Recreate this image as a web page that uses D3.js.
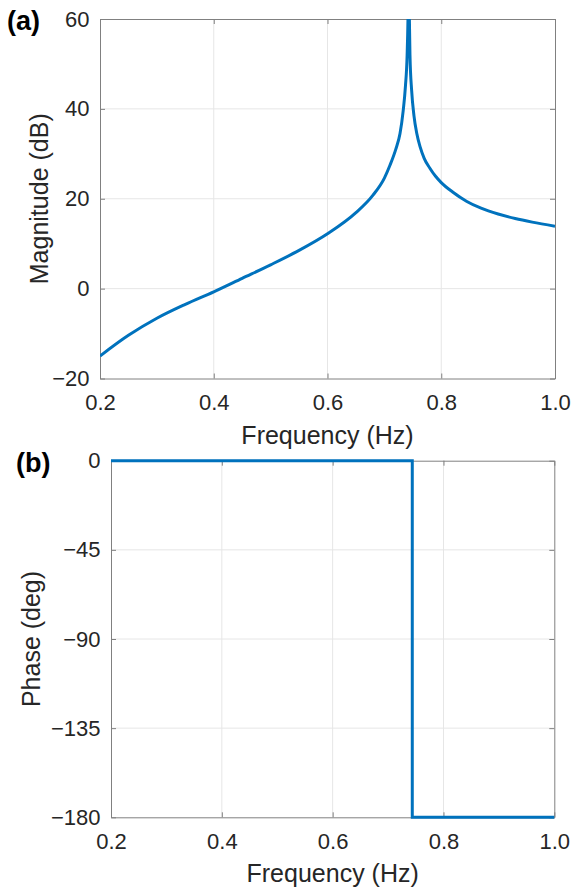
<!DOCTYPE html>
<html>
<head>
<meta charset="utf-8">
<script src="https://cdn.jsdelivr.net/npm/d3@7"></script>
<style>
  body { margin: 0; background: #fff; }
  svg { display: block; font-family: "Liberation Sans", Arial, sans-serif; }
  .tick text { fill: #262626; }
</style>
</head>
<body>
<div id="chart"></div>
<script>
// Frequency response
const magFreq = [0.2, 0.25, 0.3, 0.35, 0.4, 0.45, 0.5, 0.55, 0.6, 0.65, 0.68, 0.7, 0.71, 0.72, 0.7275, 0.733, 0.737, 0.74, 0.7415, 0.7427,
                 0.744, 0.745, 0.748, 0.752, 0.757, 0.763, 0.77, 0.78, 0.79, 0.8, 0.82, 0.845, 0.87, 0.9, 0.93, 0.96, 1.0];
const magDb = [-15.0, -10.4, -6.6, -3.5, -0.7, 2.3, 5.3, 8.5, 12.2, 16.9, 20.8, 24.6, 27.5, 31.0, 34.5, 39.5, 45.0, 52.0, 60.0, 72.0,
               60.0, 52.0, 44.0, 38.5, 34.5, 31.5, 29.0, 26.8, 25.0, 23.6, 21.5, 19.4, 17.9, 16.6, 15.6, 14.8, 13.9];

const phaseFreq = [0.2, 0.7437, 0.7437, 1.0];
const phaseDeg = [0, 0, -180, -180];

const freqTicks = [0.2, 0.4, 0.6, 0.8, 1.0];
const magTicks = [-20, 0, 20, 40, 60];
const phaseTicks = [0, -45, -90, -135, -180];

const W = 573, H = 890;
const lineColor = '#0072BD';
const axisColor = '#808080';
const gridColor = '#e6e6e6';
const textColor = '#262626';

const svg = d3.select('#chart').append('svg')
    .attr('width', W)
    .attr('height', H);

// draws one axes box with grid, ticks and labels; returns scales + group
const drawPanel = (box, yDomain, yTicks, yLabel, panelTag, tagPos, yLabelX) => {
    const x = d3.scaleLinear().domain([0.2, 1.0]).range([box.left, box.right]);
    const y = d3.scaleLinear().domain(yDomain).range([box.bottom, box.top]);
    const g = svg.append('g');

    // grid lines
    g.append('g').selectAll('line.gx')
        .data(freqTicks.slice(1, -1))
        .enter().append('line')
        .attr('x1', d => x(d)).attr('x2', d => x(d))
        .attr('y1', box.top).attr('y2', box.bottom)
        .attr('stroke', gridColor).attr('stroke-width', 1);
    g.append('g').selectAll('line.gy')
        .data(yTicks.filter(d => d !== yDomain[0] && d !== yDomain[1]))
        .enter().append('line')
        .attr('x1', box.left).attr('x2', box.right)
        .attr('y1', d => y(d)).attr('y2', d => y(d))
        .attr('stroke', gridColor).attr('stroke-width', 1);

    // bottom axis
    const xAxis = g.append('g')
        .attr('transform', `translate(0,${box.bottom})`)
        .call(d3.axisBottom(x).tickValues(freqTicks).tickFormat(d3.format('.1f'))
            .tickSizeInner(-5).tickSizeOuter(0).tickPadding(16));
    xAxis.selectAll('text').style('font-size', '22px');
    xAxis.select('.domain').attr('stroke', axisColor);
    xAxis.selectAll('.tick line').attr('stroke', axisColor);

    // left axis
    const yAxis = g.append('g')
        .attr('transform', `translate(${box.left},0)`)
        .call(d3.axisLeft(y).tickValues(yTicks)
            .tickSizeInner(-5).tickSizeOuter(0).tickPadding(10.5));
    yAxis.selectAll('text').style('font-size', '22px');
    yAxis.select('.domain').attr('stroke', axisColor);
    yAxis.selectAll('.tick line').attr('stroke', axisColor);

    // top and right box with inward ticks
    const topAxis = g.append('g')
        .attr('transform', `translate(0,${box.top})`)
        .call(d3.axisTop(x).tickValues(freqTicks).tickFormat('').tickSizeInner(-5).tickSizeOuter(0));
    topAxis.selectAll('path, line').attr('stroke', axisColor);
    const rightAxis = g.append('g')
        .attr('transform', `translate(${box.right},0)`)
        .call(d3.axisRight(y).tickValues(yTicks).tickFormat('').tickSizeInner(-5).tickSizeOuter(0));
    rightAxis.selectAll('path, line').attr('stroke', axisColor);

    // axis labels
    g.append('text')
        .attr('x', (box.left + box.right) / 2)
        .attr('y', box.bottom + 65)
        .attr('text-anchor', 'middle')
        .style('font-size', '25px')
        .style('fill', textColor)
        .text('Frequency (Hz)');

    g.append('text')
        .attr('transform', `translate(${yLabelX},${(box.top + box.bottom) / 2}) rotate(-90)`)
        .attr('text-anchor', 'middle')
        .style('font-size', '25px')
        .style('fill', textColor)
        .text(yLabel);

    // panel tag
    g.append('text')
        .attr('x', tagPos[0])
        .attr('y', tagPos[1])
        .style('font-size', '27px')
        .style('font-weight', 'bold')
        .style('fill', '#000')
        .text(panelTag);

    return { x, y, g };
};

// Panel (a): magnitude
const boxA = { left: 100, right: 555, top: 19, bottom: 378.5 };
const pA = drawPanel(boxA, [-20, 60], magTicks, 'Magnitude (dB)', '(a)', [7, 30], 48);

svg.append('clipPath').attr('id', 'clipA')
    .append('rect')
    .attr('x', boxA.left).attr('y', boxA.top)
    .attr('width', boxA.right - boxA.left).attr('height', boxA.bottom - boxA.top);

const magLine = d3.line()
    .x((d, i) => pA.x(magFreq[i]))
    .y(d => pA.y(d))
    .curve(d3.curveMonotoneX);

pA.g.append('path')
    .datum(magDb)
    .attr('clip-path', 'url(#clipA)')
    .attr('d', magLine)
    .attr('fill', 'none')
    .attr('stroke', lineColor)
    .attr('stroke-width', 3);

// Panel (b): phase
const boxB = { left: 111, right: 554.3, top: 460.7, bottom: 817.3 };
const pB = drawPanel(boxB, [-180, 0], phaseTicks, 'Phase (deg)', '(b)', [16, 472], 40);

const phaseLine = d3.line()
    .x((d, i) => pB.x(phaseFreq[i]))
    .y(d => pB.y(d));

pB.g.append('path')
    .datum(phaseDeg)
    .attr('d', phaseLine)
    .attr('fill', 'none')
    .attr('stroke', lineColor)
    .attr('stroke-width', 3);
</script>
</body>
</html>
